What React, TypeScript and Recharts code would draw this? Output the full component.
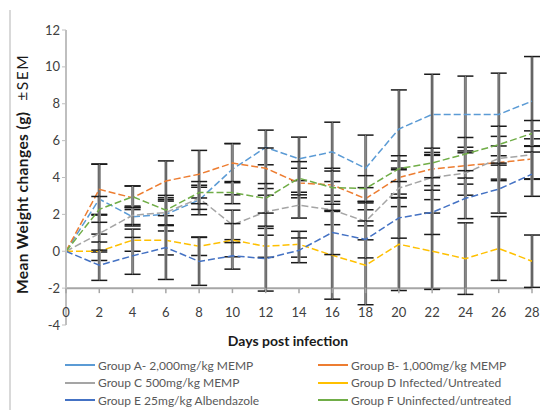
import {
  LineChart,
  Line,
  XAxis,
  YAxis,
  ErrorBar,
  ReferenceLine,
  ReferenceDot,
} from "recharts";

const days = [0, 2, 4, 6, 8, 10, 12, 14, 16, 18, 20, 22, 24, 26, 28];
const yTicks = [-4, -2, 0, 2, 4, 6, 8, 10, 12];

const groupA = [0, 2.83, 1.87, 2.0, 2.78, 4.45, 5.63, 5.01, 5.39, 4.5, 6.63, 7.42, 7.42, 7.42, 8.14];
const groupB = [0, 3.36, 2.9, 3.81, 4.18, 4.78, 4.5, 3.7, 3.6, 2.85, 4.0, 4.46, 4.64, 4.81, 5.0];
const groupC = [0, 0.96, 1.95, 2.1, 2.87, 1.43, 2.14, 2.5, 2.24, 1.62, 3.42, 4.0, 4.24, 5.03, 5.23];
const groupD = [0, 0, 0.6, 0.6, 0.27, 0.6, 0.27, 0.38, -0.22, -0.76, 0.38, 0, -0.4, 0.15, -0.54];
const groupE = [0, -0.76, -0.25, 0.2, -0.55, -0.25, -0.4, 0.05, 1.02, 0.64, 1.81, 2.11, 2.87, 3.37, 4.18];
const groupF = [0, 2.27, 2.96, 2.23, 3.18, 3.18, 2.87, 3.96, 3.45, 3.4, 4.48, 4.79, 5.27, 5.78, 6.39];

// SEM per group (day 0 has none)
const semA = [null, 1.9, 0.5, 0.9, 0.8, 1.39, 0.94, 1.18, 1.61, 1.8, 2.12, 2.18, 2.08, 2.24, 2.42];
const semB = [null, 1.36, 0.64, 1.09, 1.29, 1.06, 1.1, 0.8, 0.9, 0.6, 0.9, 0.9, 1.0, 0.9, 1.1];
const semC = [null, 1.0, 0.5, 0.7, 0.6, 0.8, 0.9, 0.7, 0.8, 1.0, 1.0, 1.2, 1.2, 1.2, 1.3];
const semD = [null, 0.5, 0.6, 0.8, 0.5, 0.9, 0.6, 0.7, 2.38, 2.14, 2.51, 2.07, 1.94, 1.73, 1.42];
const semE = [null, 0.82, 1.0, 1.73, 1.3, 0.72, 1.76, 0.67, 1.2, 1.0, 1.1, 1.2, 1.1, 1.3, 1.2];
const semF = [null, 0.7, 0.58, 0.8, 0.6, 0.6, 0.8, 0.9, 0.9, 0.7, 0.7, 0.8, 0.9, 1.0, 0.7];

const series = [
  { key: "a", name: "Group A- 2,000mg/kg MEMP", color: "#5B9BD5", values: groupA, sem: semA },
  { key: "b", name: "Group B- 1,000mg/kg MEMP", color: "#ED7D31", values: groupB, sem: semB },
  { key: "c", name: "Group C  500mg/kg MEMP", color: "#A5A5A5", values: groupC, sem: semC },
  { key: "d", name: "Group D  Infected/Untreated", color: "#FFC000", values: groupD, sem: semD },
  { key: "e", name: "Group E  25mg/kg Albendazole", color: "#4472C4", values: groupE, sem: semE },
  { key: "f", name: "Group F  Uninfected/untreated", color: "#70AD47", values: groupF, sem: semF },
];

const data = days.map((day, i) => {
  const row: Record<string, number | null> = { day };
  series.forEach((s) => {
    row[s.key] = s.values[i];
    row[s.key + "Err"] = s.sem[i];
  });
  return row;
});

function DayTick(props: any) {
  const { cx, cy, day } = props;
  return (
    <g>
      <line x1={cx} x2={cx} y1={cy} y2={cy + 5} stroke="#a6a6a6" strokeWidth={1.5} />
      <text x={cx} y={cy + 29} textAnchor="middle" fontSize={13} fill="#404040">
        {day}
      </text>
    </g>
  );
}

export default function App() {
  return (
    <div
      style={{
        position: "absolute",
        left: 0,
        top: 0,
        width: 540,
        height: 410,
        background: "#fff",
        fontFamily: "Lato, sans-serif",
      }}
    >
      <div
        style={{
          position: "absolute",
          left: 9,
          top: 10,
          width: 2,
          height: 400,
          background: "#d9d9d9",
        }}
      />
      <LineChart
        width={540}
        height={410}
        data={data}
        margin={{ top: 30, right: 8, left: 26, bottom: 85 }}
        style={{ fontFamily: "Lato, sans-serif" }}
      >
        <XAxis dataKey="day" type="number" domain={[0, 28]} hide />
        <YAxis
          type="number"
          domain={[-4, 12]}
          ticks={yTicks}
          width={40}
          interval={0}
          axisLine={{ stroke: "#bfbfbf", strokeWidth: 2 }}
          tickLine={{ stroke: "#bfbfbf" }}
          tickSize={4}
          tick={{ fill: "#404040", fontSize: 13 }}
        />
        <ReferenceLine y={-2} stroke="#a6a6a6" strokeWidth={2} />
        {days.map((d) => (
          <ReferenceDot
            key={d}
            x={d}
            y={-2}
            r={0}
            shape={(p: any) => <DayTick {...p} day={d} />}
          />
        ))}
        {series.map((s) => (
          <Line
            key={s.key}
            type="linear"
            dataKey={s.key}
            name={s.name}
            stroke={s.color}
            strokeWidth={1.5}
            strokeDasharray="7 3"
            dot={false}
            isAnimationActive={false}
          >
            <ErrorBar dataKey={s.key + "Err"} width={0} stroke="#a0a0a0" strokeWidth={3.2} />
            <ErrorBar dataKey={s.key + "Err"} width={8} stroke="#1a1a1a" strokeWidth={1.5} />
            <ErrorBar dataKey={s.key + "Err"} width={0} stroke="#909090" strokeWidth={1} />
          </Line>
        ))}
      </LineChart>
      <div
        style={{
          position: "absolute",
          left: 22,
          top: 174,
          transform: "translate(-50%, -50%) rotate(-90deg)",
          whiteSpace: "nowrap",
          fontSize: 15.5,
          letterSpacing: 0.4,
          color: "#1a1a1a",
        }}
      >
        <b>Mean Weight changes (g)</b>
        <span style={{ letterSpacing: 1.5 }}>&nbsp;&nbsp;±SEM</span>
      </div>
      <div
        style={{
          position: "absolute",
          left: 288,
          top: 340,
          transform: "translate(-50%, -50%)",
          whiteSpace: "nowrap",
          fontSize: 14,
          fontWeight: "bold",
          color: "#1a1a1a",
        }}
      >
        Days post infection
      </div>
      {series.map((s, i) => {
        const col = i % 2;
        const row = Math.floor(i / 2);
        return (
          <div
            key={s.key}
            style={{
              position: "absolute",
              left: col === 0 ? 65 : 318,
              top: 357 + row * 17.5,
              height: 16,
              display: "flex",
              alignItems: "center",
              fontSize: 12,
              color: "#595959",
              whiteSpace: "nowrap",
            }}
          >
            <span
              style={{
                display: "inline-block",
                width: 30,
                height: 2,
                background: s.color,
                marginRight: 3,
              }}
            />
            {s.name}
          </div>
        );
      })}
    </div>
  );
}
